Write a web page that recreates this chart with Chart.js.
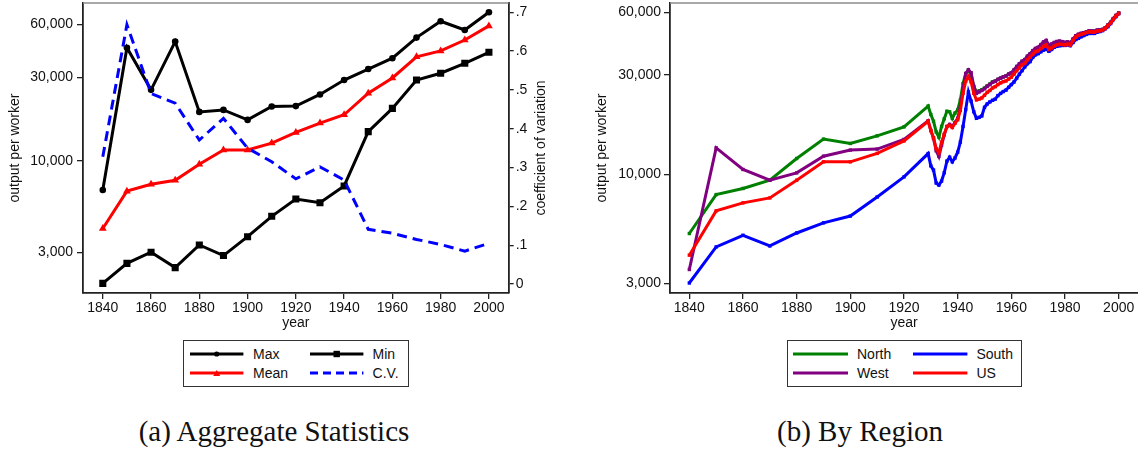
<!DOCTYPE html>
<html>
<head>
<meta charset="utf-8">
<script src="https://cdn.jsdelivr.net/npm/chart.js@4.4.1/dist/chart.umd.min.js"></script>
<style>
  body { margin: 0; background: #fff; }
  #page { position: relative; width: 1138px; height: 450px; overflow: hidden;
          font-family: "Liberation Sans", Arial, sans-serif; color: #111; }
  .panel { position: absolute; top: 0; }
  .legend { position: absolute; top: 340px; height: 47px; border: 1px solid #333; box-sizing: border-box; }
  .legend svg { position: absolute; overflow: visible; }
  .legend span { position: absolute; font-size: 14px; line-height: 16px; white-space: nowrap; }
  .caption { position: absolute; top: 417px; font-family: "Liberation Serif", "Times New Roman", serif;
             font-size: 29px; line-height: 29px; white-space: nowrap; transform: translateX(-50%); }
</style>
</head>
<body>
<div id="page">
  <div class="panel" style="left:0"><canvas id="chartA" width="570" height="335"></canvas></div>
  <div class="panel" style="left:575px"><canvas id="chartB" width="563" height="335"></canvas></div>
  <div class="legend" id="legendA" style="left:183px; width:226px"></div>
  <div class="legend" id="legendB" style="left:787px; width:235px"></div>
  <div class="caption" style="left:274px">(a) Aggregate Statistics</div>
  <div class="caption" style="left:860px">(b) By Region</div>
</div>
<script>
// ---- panel (a): decade data ----
const yearsA = [1840, 1850, 1860, 1870, 1880, 1890, 1900, 1910, 1920, 1930, 1940, 1950, 1960, 1970, 1980, 1990, 2000];
const maxVals  = [6800, 44200, 25400, 47900, 19000, 19500, 17100, 20400, 20500, 23900, 28900, 33400, 38500, 50500, 62600, 55800, 70500];
const meanVals = [4100, 6700, 7330, 7730, 9540, 11500, 11500, 12600, 14500, 16400, 18300, 24300, 29700, 39200, 42400, 48900, 58900];
const minVals  = [1990, 2590, 3000, 2450, 3300, 2870, 3680, 4810, 6040, 5750, 7170, 14650, 19900, 28900, 31600, 36000, 41600];
const cvVals   = [0.328, 0.668, 0.491, 0.466, 0.371, 0.427, 0.350, 0.315, 0.271, 0.302, 0.268, 0.141, 0.131, 0.115, 0.102, 0.085, 0.105];

// ---- panel (b): decades to 1920, then annual ----
const yearsB = [1840, 1850, 1860, 1870, 1880, 1890, 1900, 1910, 1920,
  1929, 1930, 1931, 1932, 1933, 1934, 1935, 1936, 1937, 1938, 1939,
  1940, 1941, 1942, 1943, 1944, 1945, 1946, 1947, 1948, 1949,
  1950, 1951, 1952, 1953, 1954, 1955, 1956, 1957, 1958, 1959,
  1960, 1961, 1962, 1963, 1964, 1965, 1966, 1967, 1968, 1969,
  1970, 1971, 1972, 1973, 1974, 1975, 1976, 1977, 1978, 1979,
  1980, 1981, 1982, 1983, 1984, 1985, 1986, 1987, 1988, 1989,
  1990, 1991, 1992, 1993, 1994, 1995, 1996, 1997, 1998, 1999, 2000];
const northVals = [5210, 8010, 8570, 9390, 11930, 14780, 14090, 15330, 16930,
  21300, 19400, 18000, 16000, 15100, 17000, 18500, 20100, 20000, 18600, 19700,
  20400, 22800, 27300, 30500, 31600, 30000, 26500, 24900, 25200, 25500,
  26000, 26600, 27200, 27800, 28100, 28600, 29000, 29400, 29700, 30300,
  30700, 31600, 32800, 33800, 34800, 35400, 36800, 37800, 39000, 40000,
  40500, 41600, 42800, 43500, 41200, 41900, 42700, 43200, 43400, 43100,
  42900, 43100, 42600, 44500, 46100, 46900, 47400, 47800, 48300, 48800,
  48700, 48600, 49200, 49300, 49600, 50500, 52000, 53700, 55900, 57900, 59500];
const southVals = [3015, 4490, 5110, 4540, 5240, 5860, 6320, 7800, 9740,
  12600, 11000, 10500, 9100, 8900, 9300, 10200, 11600, 12100, 11500, 12000,
  12800, 14300, 17000, 20500, 24900, 22500, 20000, 18600, 18800, 19100,
  21000, 21800, 22300, 22700, 23000, 23900, 24500, 25000, 25400, 26200,
  27000, 27800, 29000, 30300, 31500, 32800, 34000, 34800, 36500, 37500,
  38000, 38800, 39500, 40000, 39000, 39800, 40800, 41200, 41500, 41600,
  41600, 41900, 41500, 43000, 44400, 45000, 45800, 46400, 47000, 47500,
  47500, 47500, 48200, 48500, 49000, 50000, 51200, 53000, 55300, 57200, 59000];
const westVals = [3500, 13420, 10570, 9390, 10180, 12240, 13090, 13240, 14730,
  18100, 16300, 14900, 13000, 12200, 13800, 15500, 17000, 17400, 17000, 17800,
  18600, 21000, 25800, 30500, 31800, 30800, 26400, 24500, 24900, 25300,
  25800, 26500, 27000, 27700, 28000, 28600, 29000, 29400, 29700, 30300,
  30800, 31800, 33000, 34000, 35000, 35600, 37000, 38000, 39300, 40300,
  40800, 42000, 43300, 44000, 41600, 42300, 43000, 43500, 43700, 43400,
  43100, 43300, 42800, 44700, 46300, 47100, 47600, 47900, 48400, 48900,
  48800, 48700, 49300, 49400, 49700, 50600, 52200, 53800, 56000, 58000, 59600];
const usVals = [4100, 6690, 7310, 7720, 9390, 11500, 11500, 12620, 14500,
  18000, 16200, 15000, 13300, 12700, 14300, 15600, 17000, 17200, 16800, 17600,
  18300, 20300, 24500, 28000, 29500, 27800, 24500, 22800, 23000, 23300,
  24000, 24800, 25300, 26000, 26400, 27000, 27500, 27900, 28100, 28700,
  29300, 30300, 31500, 32500, 33500, 34100, 35500, 36500, 37800, 38800,
  39200, 40200, 41200, 41800, 39800, 40500, 41300, 41900, 42200, 42000,
  41800, 42200, 41700, 44000, 45600, 46500, 47000, 47400, 48000, 48400,
  48300, 48200, 48800, 48900, 49300, 50300, 51800, 53300, 55500, 57500, 59300];

// tick labels
const xTicks = [1840, 1860, 1880, 1900, 1920, 1940, 1960, 1980, 2000];
const yTicks = [3000, 10000, 30000, 60000];
const cvTicks = [0, 0.1, 0.2, 0.3, 0.4, 0.5, 0.6, 0.7];

const ink = '#111';
const axisColor = '#222';
const font14 = { family: 'Liberation Sans', size: 14 };
const pts = (xs, ys) => xs.map((x, i) => ({ x: x, y: ys[i] }));

// top frame line + optional rotated right-axis title
const framePlugin = {
    id: 'frame',
    afterDraw(chart, args, opts) {
        const { ctx, chartArea: a } = chart;
        ctx.save();
        ctx.strokeStyle = '#8c8c8c';
        ctx.lineWidth = 1.5;
        ctx.beginPath();
        ctx.moveTo(a.left, a.top);
        ctx.lineTo(a.right, a.top);
        ctx.stroke();
        if (opts.rightTitle) {
            ctx.translate(opts.rightTitleX, (a.top + a.bottom) / 2);
            ctx.rotate(-Math.PI / 2);
            ctx.font = '14px "Liberation Sans"';
            ctx.fillStyle = ink;
            ctx.textAlign = 'center';
            ctx.textBaseline = 'middle';
            ctx.fillText(opts.rightTitle, 0, 0);
        }
        ctx.restore();
    }
};

function xScale(min, max) {
    return {
        type: 'linear', min: min, max: max,
        afterBuildTicks: s => { s.ticks = xTicks.map(v => ({ value: v })); },
        afterFit: s => { s.height = 42; s.paddingLeft = 0; s.paddingRight = 0; },
        grid: { drawOnChartArea: false, drawTicks: true, tickLength: 6, color: axisColor, lineWidth: 1.3 },
        border: { color: axisColor, width: 1.8 },
        ticks: { font: font14, color: ink, padding: 1, maxRotation: 0, autoSkip: false, callback: v => String(v) },
        title: { display: true, text: 'year', font: font14, color: ink, padding: { top: 0, bottom: 3.6 } }
    };
}

function logScale(min, max, width, pad, titlePad) {
    return {
        type: 'logarithmic', position: 'left', min: min, max: max,
        afterBuildTicks: s => { s.ticks = yTicks.map(v => ({ value: v })); },
        afterFit: s => { s.width = width; s.paddingTop = 0; s.paddingBottom = 0; },
        grid: { drawOnChartArea: false, drawTicks: true, tickLength: 6, color: axisColor, lineWidth: 1.3 },
        border: { color: axisColor, width: 1.8 },
        ticks: { font: font14, color: ink, padding: pad, autoSkip: false, callback: v => Number(v).toLocaleString('en-US') },
        title: { display: true, text: 'output per worker', font: font14, color: ink, padding: { top: titlePad, bottom: 0 } }
    };
}

document.addEventListener('DOMContentLoaded', () => {
    // panel (a)
    new Chart(document.getElementById('chartA'), {
        type: 'line',
        data: {
            datasets: [
                { label: 'C.V.', data: pts(yearsA, cvVals), yAxisID: 'y2', borderColor: '#0000ff',
                  borderWidth: 3, borderDash: [10, 6], pointRadius: 0 },
                { label: 'Min', data: pts(yearsA, minVals), yAxisID: 'y', borderColor: '#000',
                  backgroundColor: '#000', borderWidth: 3, pointStyle: 'rect', pointRadius: 5, pointBorderWidth: 0 },
                { label: 'Mean', data: pts(yearsA, meanVals), yAxisID: 'y', borderColor: '#ff0000',
                  backgroundColor: '#ff0000', borderWidth: 3, pointStyle: 'triangle', pointRadius: 4.5, pointBorderWidth: 0 },
                { label: 'Max', data: pts(yearsA, maxVals), yAxisID: 'y', borderColor: '#000',
                  backgroundColor: '#000', borderWidth: 3, pointStyle: 'circle', pointRadius: 3.3, pointBorderWidth: 0 }
            ]
        },
        options: {
            responsive: false, animation: false, devicePixelRatio: 1,
            layout: { autoPadding: false, padding: { top: 3, left: 0, right: 0, bottom: 0 } },
            scales: {
                x: xScale(1831.8, 2008.2),
                y: logScale(1754, 79600, 83, 4, 6.6),
                y2: {
                    type: 'linear', position: 'right', min: -0.023, max: 0.724,
                    afterBuildTicks: s => { s.ticks = cvTicks.map(v => ({ value: v })); },
                    afterFit: s => { s.width = 61.3; s.paddingTop = 0; s.paddingBottom = 0; },
                    grid: { drawOnChartArea: false, drawTicks: true, tickLength: 5, color: axisColor, lineWidth: 1.3 },
                    border: { color: axisColor, width: 1.8 },
                    ticks: { font: font14, color: ink, padding: 2, autoSkip: false,
                             callback: v => v === 0 ? '0' : Number(v).toFixed(1).replace(/^0/, '') },
                    title: { display: false }
                }
            },
            plugins: {
                legend: { display: false },
                tooltip: { enabled: false },
                frame: { rightTitle: 'coefficient of variation', rightTitleX: 541 }
            }
        },
        plugins: [framePlugin]
    });

    // panel (b)
    new Chart(document.getElementById('chartB'), {
        type: 'line',
        data: {
            datasets: [
                { label: 'US', data: pts(yearsB, usVals), borderColor: '#ff0000', backgroundColor: '#ff0000' },
                { label: 'West', data: pts(yearsB, westVals), borderColor: '#800080', backgroundColor: '#800080' },
                { label: 'South', data: pts(yearsB, southVals), borderColor: '#0000ff', backgroundColor: '#0000ff' },
                { label: 'North', data: pts(yearsB, northVals), borderColor: '#008000', backgroundColor: '#008000' }
            ].map(d => Object.assign(d, { borderWidth: 3, pointStyle: 'rect', pointRadius: 2.4, pointBorderWidth: 0 }))
        },
        options: {
            responsive: false, animation: false, devicePixelRatio: 1,
            layout: { autoPadding: false, padding: { top: 3, left: 0, right: 0, bottom: 0 } },
            scales: {
                x: xScale(1832.8, 2007.2),
                y: logScale(2700, 66500, 95, 3, 19)
            },
            plugins: {
                legend: { display: false },
                tooltip: { enabled: false },
                frame: {}
            }
        },
        plugins: [framePlugin]
    });

    // html legends
    function buildLegend(id, items, cols) {
        const box = document.getElementById(id);
        items.forEach(it => {
            const c = cols[it.col];
            const y = it.row === 0 ? 13 : 32.3;
            const len = c.x2 - c.x1;
            let marker = '';
            if (it.marker === 'circle') marker = `<circle cx="${len / 2}" cy="6" r="2.6" fill="${it.color}"/>`;
            if (it.marker === 'rect') marker = `<rect x="${len / 2 - 3.2}" y="2.8" width="6.4" height="6.4" fill="${it.color}"/>`;
            if (it.marker === 'triangle') marker = `<polygon points="${len / 2 - 3.5},9 ${len / 2 + 3.5},9 ${len / 2},3" fill="${it.color}"/>`;
            const dash = it.dash ? 'stroke-dasharray="8 5"' : '';
            box.insertAdjacentHTML('beforeend',
                `<svg width="${len}" height="12" style="left:${c.x1}px; top:${y - 6}px">
                   <line x1="0" y1="6" x2="${len}" y2="6" stroke="${it.color}" stroke-width="3" ${dash}/>${marker}
                 </svg>
                 <span style="left:${c.tx}px; top:${y - 8}px">${it.text}</span>`);
        });
    }

    buildLegend('legendA', [
        { text: 'Max', color: '#000', marker: 'circle', col: 0, row: 0 },
        { text: 'Min', color: '#000', marker: 'rect', col: 1, row: 0 },
        { text: 'Mean', color: '#ff0000', marker: 'triangle', col: 0, row: 1 },
        { text: 'C.V.', color: '#0000ff', dash: true, col: 1, row: 1 }
    ], [{ x1: 5.6, x2: 59, tx: 69 }, { x1: 125.6, x2: 179, tx: 188.6 }]);

    buildLegend('legendB', [
        { text: 'North', color: '#008000', col: 0, row: 0 },
        { text: 'South', color: '#0000ff', col: 1, row: 0 },
        { text: 'West', color: '#800080', col: 0, row: 1 },
        { text: 'US', color: '#ff0000', col: 1, row: 1 }
    ], [{ x1: 5, x2: 60, tx: 69 }, { x1: 125, x2: 179.4, tx: 188.4 }]);
});
</script>
</body>
</html>
